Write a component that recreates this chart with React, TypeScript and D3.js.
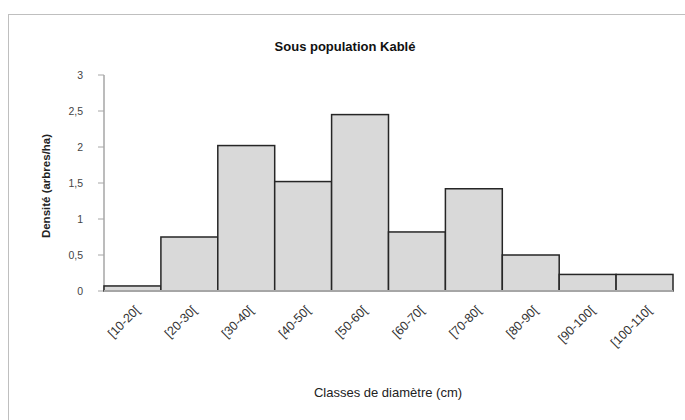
import React, { useRef, useEffect } from "react";
import * as d3 from "d3";

const classes = [
  "[10-20[",
  "[20-30[",
  "[30-40[",
  "[40-50[",
  "[50-60[",
  "[60-70[",
  "[70-80[",
  "[80-90[",
  "[90-100[",
  "[100-110[",
];
const densite = [0.07, 0.75, 2.02, 1.52, 2.45, 0.82, 1.42, 0.5, 0.23, 0.23];
const yTicks = [0, 0.5, 1, 1.5, 2, 2.5, 3];

const W = 685;
const H = 420;
const margin = { top: 75, right: 12, bottom: 129, left: 104 };

const App: React.FC = () => {
  const svgRef = useRef<SVGSVGElement>(null);

  useEffect(() => {
    if (!svgRef.current) return;
    const svg = d3.select(svgRef.current);
    svg.selectAll("*").remove();

    const font = "'Liberation Sans', Arial, sans-serif";

    // chart frame
    svg
      .append("rect")
      .attr("x", 8.5)
      .attr("y", 14.5)
      .attr("width", W + 10)
      .attr("height", H + 10)
      .attr("fill", "#fff")
      .attr("stroke", "#bfbfbf")
      .attr("stroke-width", 1);

    const x = d3
      .scaleBand<string>()
      .domain(classes)
      .range([margin.left, W - margin.right])
      .padding(0);

    const y = d3
      .scaleLinear()
      .domain([0, 3])
      .range([H - margin.bottom, margin.top]);

    // title
    svg
      .append("text")
      .attr("x", 345)
      .attr("y", 51)
      .attr("text-anchor", "middle")
      .attr("font-family", font)
      .attr("font-weight", "bold")
      .attr("font-size", 13)
      .attr("fill", "#111")
      .text("Sous population Kablé");

    // y axis
    const yAxis = svg.append("g");
    yAxis
      .append("line")
      .attr("x1", margin.left)
      .attr("x2", margin.left)
      .attr("y1", y(3))
      .attr("y2", y(0))
      .attr("stroke", "#a6a6a6")
      .attr("stroke-width", 1.5);
    yTicks.forEach((t) => {
      yAxis
        .append("line")
        .attr("x1", margin.left - 6)
        .attr("x2", margin.left)
        .attr("y1", y(t))
        .attr("y2", y(t))
        .attr("stroke", "#a6a6a6");
      yAxis
        .append("text")
        .attr("x", 83)
        .attr("y", y(t))
        .attr("dy", "0.35em")
        .attr("text-anchor", "end")
        .attr("font-family", font)
        .attr("font-size", 10.5)
        .attr("fill", "#444")
        .text(String(t).replace(".", ","));
    });

    svg
      .append("text")
      .attr("transform", `translate(50,${(y(0) + y(3)) / 2 + 3}) rotate(-90)`)
      .attr("text-anchor", "middle")
      .attr("font-family", font)
      .attr("font-weight", "bold")
      .attr("font-size", 11.5)
      .attr("fill", "#222")
      .text("Densité (arbres/ha)");

    // bars
    svg
      .append("g")
      .selectAll("rect")
      .data(densite)
      .join("rect")
      .attr("x", (_, i) => x(classes[i])!)
      .attr("y", (d) => y(d))
      .attr("width", x.bandwidth())
      .attr("height", (d) => y(0) - y(d))
      .attr("fill", "#d9d9d9")
      .attr("stroke", "#262626")
      .attr("stroke-width", 1.5);

    // x axis
    svg
      .append("line")
      .attr("x1", margin.left)
      .attr("x2", W - margin.right)
      .attr("y1", y(0))
      .attr("y2", y(0))
      .attr("stroke", "#a6a6a6")
      .attr("stroke-width", 2);

    svg
      .append("g")
      .selectAll("text")
      .data(classes)
      .join("text")
      .attr(
        "transform",
        (d) => `translate(${x(d)! + x.bandwidth() / 2 + 8},${y(0) + 20}) rotate(-45)`
      )
      .attr("text-anchor", "end")
      .attr("font-family", font)
      .attr("font-size", 12.5)
      .attr("fill", "#333")
      .text((d) => d);

    svg
      .append("text")
      .attr("x", 388)
      .attr("y", 397)
      .attr("text-anchor", "middle")
      .attr("font-family", font)
      .attr("font-size", 13)
      .attr("fill", "#222")
      .text("Classes de diamètre (cm)");
  }, []);

  return (
    <svg
      ref={svgRef}
      width={W}
      height={H}
      style={{ position: "absolute", left: 0, top: 0 }}
    />
  );
};

export default App;
